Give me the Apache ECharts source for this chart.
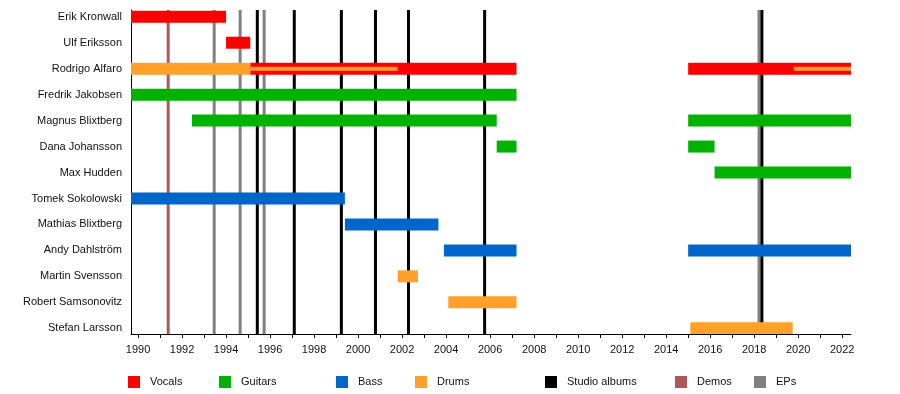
<!DOCTYPE html>
<html>
<head>
<meta charset="utf-8">
<script src="https://cdn.jsdelivr.net/npm/echarts@6/dist/echarts.min.js"></script>
<style>html,body{margin:0;padding:0;background:#fff}#c{width:900px;height:394px}</style>
</head>
<body>
<div id="c"></div>
<script>
const members = ['Erik Kronwall','Ulf Eriksson','Rodrigo Alfaro','Fredrik Jakobsen','Magnus Blixtberg','Dana Johansson','Max Hudden','Tomek Sokolowski','Mathias Blixtberg','Andy Dahlström','Martin Svensson','Robert Samsonovitz','Stefan Larsson'];
const START = 1989.68;
const END = 2022.4;
// [member index, start, end]
const vocals = [[0, START, 1994.0], [1, 1994.0, 1995.1], [2, 1995.1, 2007.2], [2, 2015.0, END]];
const guitars = [[3, START, 2007.2], [4, 1992.45, 2006.3], [4, 2015.0, END], [5, 2006.3, 2007.2], [5, 2015.0, 2016.2], [6, 2016.2, END]];
const bass = [[7, START, 1999.4], [8, 1999.4, 2003.65], [9, 2003.9, 2007.2], [9, 2015.0, END]];
const drums = [[2, START, 1995.1], [10, 2001.8, 2002.72], [11, 2004.1, 2007.2], [12, 2015.1, 2019.75]];
const drumsShared = [[2, 1995.1, 2001.8], [2, 2019.8, END]];
const studioAlbums = [1995.42, 1997.1, 1999.24, 2000.79, 2002.29, 2005.75, 2018.35];
const demos = [1991.37];
const eps = [1993.46, 1994.64, 1995.73, 2018.22];
const tickYears = [1990,1991,1992,1993,1994,1995,1996,1997,1998,1999,2000,2001,2002,2003,2004,2005,2006,2007,2008,2009,2010,2011,2012,2013,2014,2015,2016,2017,2018,2019,2020,2021,2022];
const labelYears = [1990,1992,1994,1996,1998,2000,2002,2004,2006,2008,2010,2012,2014,2016,2018,2020,2022];
const rowIndex = [0,1,2,3,4,5,6,7,8,9,10,11,12];

const FONT = "'Liberation Sans', Arial, sans-serif";
const colors = {Vocals:'#ff0000', Guitars:'#00b300', Bass:'#0066cc', Drums:'#ffa02a', 'Studio albums':'#000000', Demos:'#b05858', EPs:'#808080'};

function barRender(h) {
  return function (params, api) {
    const row = api.value(0);
    const p0 = api.coord([api.value(1), row]);
    const p1 = api.coord([api.value(2), row]);
    return {type:'rect', shape:{x:p0[0], y:p0[1]-h/2, width:p1[0]-p0[0], height:h}, style:{fill: api.visual('color')}};
  };
}
function lineRender(params, api) {
  const x = api.coord([api.value(0), 0])[0];
  const cs = params.coordSys;
  return {type:'line', shape:{x1:x, y1:cs.y, x2:x, y2:cs.y+cs.height}, style:{stroke: api.visual('color'), lineWidth:3}};
}
function barSeries(name, data, h, z) {
  return {name, type:'custom', renderItem: barRender(h), data, z, encode:{x:[1,2], y:0}, itemStyle:{color:colors[name]}, silent:true, clip:true};
}
function lineSeries(name, data) {
  return {name, type:'custom', renderItem: lineRender, data: data.map(v => [v, 0]), z:1, encode:{x:0, y:1}, itemStyle:{color:colors[name]}, silent:true};
}
const legendPos = [['Vocals',128],['Guitars',219],['Bass',336],['Drums',415],['Studio albums',545],['Demos',675],['EPs',754]];

const chart = echarts.init(document.getElementById('c'), null, {renderer:'canvas'});
chart.setOption({
  animation:false,
  backgroundColor:'#fff',
  grid:{left:131, right:49, top:10, height:324},
  xAxis:{type:'value', min:START, max:END,
    axisLine:{show:true, onZero:false, lineStyle:{color:'#000', width:1}},
    axisTick:{show:true, length:4, lineStyle:{color:'#000'}, customValues: tickYears},
    axisLabel:{customValues: labelYears, color:'#111', fontSize:11, fontFamily:FONT, margin:10, formatter: v => String(v)},
    splitLine:{show:false}},
  yAxis:{type:'value', inverse:true, min:-0.26, max:12.22,
    axisLine:{show:true, onZero:false, lineStyle:{color:'#000', width:1}},
    axisTick:{show:false},
    axisLabel:{customValues: rowIndex, color:'#111', fontSize:11, fontFamily:FONT, margin:9, padding:[2,0,0,0], formatter: v => members[Math.round(v)]},
    splitLine:{show:false}},
  legend: legendPos.map(([n, x]) => ({data:[n], left:x, top:376, itemWidth:12, itemHeight:12, icon:'rect', selectedMode:false, padding:0, itemGap:0,
    textStyle:{fontSize:11, fontFamily:FONT, color:'#111', padding:[4,0,0,5]}})),
  series:[
    lineSeries('Demos', demos),
    lineSeries('EPs', eps),
    lineSeries('Studio albums', studioAlbums),
    barSeries('Vocals', vocals, 12, 5),
    barSeries('Guitars', guitars, 12, 5),
    barSeries('Bass', bass, 12, 5),
    barSeries('Drums', drums, 12, 5),
    barSeries('Drums', drumsShared, 4, 6)
  ]
});
</script>
</body>
</html>
